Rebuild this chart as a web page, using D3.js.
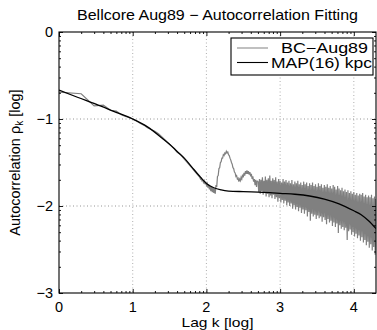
<!DOCTYPE html>
<html><head><meta charset="utf-8">
<script src="https://cdn.jsdelivr.net/npm/d3@7"></script>
<style>body{margin:0;background:#fff} text{font-family:"Liberation Sans",Arial,Helvetica,sans-serif;fill:#000}</style>
</head><body><svg id="c" width="377" height="330"></svg>
<script>
const titleText = "Bellcore Aug89 − Autocorrelation Fitting";
const xLabelText = "Lag k [log]";
const seriesNames = ["BC−Aug89", "MAP(16) kpc"];
const xTicks = [0, 1, 2, 3, 4];
const xTickLabels = ["0", "1", "2", "3", "4"];
const yTicks = [0, -1, -2, -3];
const yTickLabels = ["0", "−1", "−2", "−3"];
const xMax = 4.301;

// BC-Aug89 empirical autocorrelation, smooth head: [log10 lag, log10 rho]
const bcHeadLag = [0, 0.301, 0.477, 0.602, 0.699, 0.778, 0.845, 0.903, 0.954, 1.00,
  1.05, 1.10, 1.15, 1.20, 1.25, 1.30, 1.35, 1.40, 1.45, 1.50, 1.55, 1.60, 1.65, 1.70, 1.75, 1.80, 1.85];
const bcHeadRho = [-0.69, -0.71, -0.85, -0.84, -0.90, -0.91, -0.95, -0.97, -0.985, -1.00,
  -1.02, -1.05, -1.07, -1.10, -1.12, -1.14, -1.17, -1.21, -1.25, -1.29, -1.33, -1.38, -1.41, -1.46, -1.51, -1.56, -1.61];
// BC-Aug89 middle part, lags on a 0.01 log grid from 1.90
const bcMidStart = 1.90;
const bcMidRho = [-1.66, -1.67, -1.69, -1.68, -1.71, -1.70, -1.73, -1.71, -1.75, -1.72,
  -1.76, -1.74, -1.79, -1.75, -1.81, -1.77, -1.83, -1.78, -1.84, -1.79,
  -1.85, -1.80, -1.86, -1.76, -1.78, -1.66, -1.65, -1.57, -1.56, -1.50,
  -1.49, -1.45, -1.45, -1.41, -1.42, -1.39, -1.40, -1.37, -1.39, -1.38,
  -1.41, -1.42, -1.45, -1.47, -1.50, -1.52, -1.56, -1.57, -1.61, -1.62,
  -1.66, -1.65, -1.69, -1.68, -1.72, -1.69, -1.71, -1.67, -1.69, -1.64,
  -1.67, -1.62, -1.65, -1.60, -1.63, -1.59, -1.63, -1.60, -1.64, -1.61,
  -1.66, -1.63, -1.69, -1.66, -1.72, -1.69, -1.76, -1.70, -1.78, -1.71];
// BC-Aug89 noisy tail, lags on a 0.01 log grid from 2.70
const bcTailStart = 2.70;
const bcTailRho = [-1.72, -1.84, -1.69, -1.86, -1.70, -1.83, -1.67, -1.87, -1.71, -1.85,
  -1.66, -1.89, -1.70, -1.86, -1.68, -1.90, -1.65, -1.88, -1.71, -1.91,
  -1.68, -1.87, -1.70, -1.92, -1.67, -1.90, -1.72, -1.95, -1.69, -1.91,
  -1.71, -1.96, -1.73, -1.93, -1.69, -1.97, -1.72, -1.94, -1.70, -1.99,
  -1.73, -1.96, -1.71, -2.00, -1.74, -1.97, -1.70, -2.03, -1.75, -1.99,
  -1.72, -2.04, -1.74, -2.01, -1.71, -2.06, -1.75, -2.02, -1.73, -2.08,
  -1.76, -2.04, -1.72, -2.09, -1.75, -2.05, -1.73, -2.12, -1.77, -2.07,
  -1.74, -2.17, -1.76, -2.09, -1.73, -2.12, -1.77, -2.10, -1.75, -2.15,
  -1.78, -2.11, -1.74, -2.14, -1.77, -2.12, -1.75, -2.18, -1.79, -2.13,
  -1.76, -2.16, -1.78, -2.21, -1.75, -2.15, -1.79, -2.19, -1.77, -2.17,
  -1.80, -2.23, -1.76, -2.19, -1.78, -2.24, -1.81, -2.20, -1.77, -2.31,
  -1.80, -2.22, -1.82, -2.26, -1.79, -2.24, -1.83, -2.28, -1.81, -2.25,
  -1.84, -2.39, -1.82, -2.29, -1.85, -2.27, -1.83, -2.33, -1.86, -2.30,
  -1.84, -2.35, -1.87, -2.32, -1.85, -2.37, -1.88, -2.34, -1.86, -2.40,
  -1.87, -2.36, -1.85, -2.42, -1.89, -2.39, -1.87, -2.45, -1.90, -2.41,
  -1.88, -2.48, -1.90, -2.44, -1.87, -2.51, -1.91, -2.47, -1.89, -2.56,
  -1.92];

// MAP(16) kpc fitted autocorrelation
const mapLag = [0, 0.25, 0.5, 0.75, 1.0, 1.2, 1.4, 1.5, 1.6, 1.7, 1.8, 1.9, 2.0, 2.1, 2.2, 2.3, 2.5, 2.7, 2.9, 3.0, 3.2, 3.4, 3.6, 3.8, 4.0, 4.1, 4.2, 4.301];
const mapRho = [-0.667, -0.75, -0.83, -0.915, -1.0, -1.09, -1.22, -1.29, -1.37, -1.45, -1.55, -1.65, -1.74, -1.79, -1.815, -1.828, -1.835, -1.84, -1.848, -1.854, -1.865, -1.885, -1.92, -1.975, -2.055, -2.10, -2.17, -2.26];

const svg = d3.select("#c");
const L = 59, R = 376, T = 32, B = 293;
const FS = 14.5;
const x = d3.scaleLinear().domain([0, xMax]).range([L, R]);
const y = d3.scaleLinear().domain([-3, 0]).range([B, T]);

svg.append("rect").attr("width", 377).attr("height", 330).attr("fill", "#fff");

// grid
const g = svg.append("g");
g.selectAll(".gx").data(xTicks.filter(d => d > 0)).join("line")
  .attr("x1", d => x(d)).attr("x2", d => x(d)).attr("y1", T).attr("y2", B)
  .attr("stroke", "#9a9a9a").attr("stroke-width", 0.8).attr("stroke-dasharray", "1,2.5");
g.selectAll(".gy").data(yTicks.filter(d => d < 0 && d > -3)).join("line")
  .attr("y1", d => y(d)).attr("y2", d => y(d)).attr("x1", L).attr("x2", R)
  .attr("stroke", "#7a7a7a").attr("stroke-width", 0.8).attr("stroke-dasharray", "1,2.5");

// data
svg.append("clipPath").attr("id", "clip").append("rect")
  .attr("x", L).attr("y", T).attr("width", R - L).attr("height", B - T);
const headPoints = bcHeadLag.map((d, i) => [d, bcHeadRho[i]])
  .concat(bcMidRho.map((v, i) => [bcMidStart + i * 0.01, v]));
const tailPoints = [headPoints[headPoints.length - 1]]
  .concat(bcTailRho.map((v, i) => [bcTailStart + i * 0.01, v]));
const line = d3.line().x(d => x(d[0])).y(d => y(d[1]));
const dg = svg.append("g").attr("clip-path", "url(#clip)");
// solid core of the noisy tail: span covered by each consecutive pair of samples
const tailArea = d3.area().x(d => x(d[0]))
  .y0((d, i) => y(Math.min(d[1], tailPoints[Math.min(i + 1, tailPoints.length - 1)][1])))
  .y1((d, i) => y(Math.max(d[1], tailPoints[Math.min(i + 1, tailPoints.length - 1)][1])));
dg.append("path").attr("d", tailArea(tailPoints.slice(1))).attr("fill", "#808080");
dg.append("path").attr("d", line(headPoints)).attr("fill", "none")
  .attr("stroke", "#808080").attr("stroke-width", 1.2);
dg.append("path").attr("d", line(tailPoints)).attr("fill", "none")
  .attr("stroke", "#808080").attr("stroke-width", 1.2).attr("stroke-linejoin", "bevel");
const mapLine = d3.line().x(d => x(d[0])).y(d => y(d[1])).curve(d3.curveMonotoneX);
dg.append("path").attr("d", mapLine(mapLag.map((d, i) => [d, mapRho[i]]))).attr("fill", "none")
  .attr("stroke", "#000").attr("stroke-width", 1.3);

// ticks (inside, all four sides)
const minorX = [], minorY = [];
for (let d = 0; d <= 4; d++) for (let k = 2; k <= 9; k++) { const v = d + Math.log10(k); if (v < xMax) minorX.push(v); }
for (let d = -3; d <= -1; d++) for (let k = 2; k <= 9; k++) minorY.push(d + Math.log10(k));
function ax(gen, tr, vals, size) {
  const a = svg.append("g").attr("transform", tr)
    .call(gen.tickValues(vals).tickSizeInner(-size).tickSizeOuter(0).tickFormat(""));
  a.select(".domain").remove();
  a.selectAll("line").attr("stroke", "#000").attr("stroke-width", 0.9);
}
ax(d3.axisBottom(x), `translate(0,${B})`, xTicks, 4);
ax(d3.axisBottom(x), `translate(0,${B})`, minorX, 2);
ax(d3.axisTop(x), `translate(0,${T})`, xTicks, 4);
ax(d3.axisTop(x), `translate(0,${T})`, minorX, 2);
ax(d3.axisLeft(y), `translate(${L},0)`, yTicks, 4);
ax(d3.axisLeft(y), `translate(${L},0)`, minorY, 2);
ax(d3.axisRight(y), `translate(${R},0)`, yTicks, 4);
ax(d3.axisRight(y), `translate(${R},0)`, minorY, 2);

svg.append("rect").attr("x", L).attr("y", T).attr("width", R - L).attr("height", B - T)
  .attr("fill", "none").attr("stroke", "#000").attr("stroke-width", 1.1);

// tick labels
svg.selectAll(".xl").data(xTicks).join("text")
  .attr("x", d => x(d)).attr("y", 311.5).attr("text-anchor", "middle")
  .attr("font-size", FS).text((d, i) => xTickLabels[i]);
svg.selectAll(".yl").data(yTicks).join("text")
  .attr("x", 53).attr("y", d => y(d) + 5).attr("text-anchor", "end")
  .attr("font-size", FS).text((d, i) => yTickLabels[i]);

// titles
svg.append("text").attr("x", (L + R) / 2).attr("y", 20).attr("text-anchor", "middle")
  .attr("font-size", FS).attr("textLength", 281).attr("lengthAdjust", "spacingAndGlyphs").text(titleText);
svg.append("text").attr("x", (L + R) / 2).attr("y", 327).attr("text-anchor", "middle")
  .attr("font-size", 13.5).attr("textLength", 72).attr("lengthAdjust", "spacingAndGlyphs").text(xLabelText);
const yl = svg.append("text").attr("transform", `translate(20,${(T + B) / 2}) rotate(-90)`)
  .attr("text-anchor", "middle").attr("font-size", FS);
yl.append("tspan").text("Autocorrelation ρ");
yl.append("tspan").attr("font-size", 10).attr("dy", 3).text("k");
yl.append("tspan").attr("dy", -3).text(" [log]");

// legend
const lg = svg.append("g");
lg.append("rect").attr("x", 231).attr("y", 38).attr("width", 142).attr("height", 37)
  .attr("fill", "#fff").attr("stroke", "#000").attr("stroke-width", 1.1);
const legColors = ["#8c8c8c", "#000"];
const legTextX = [281, 271];
const legTextW = [87, 101];
seriesNames.forEach((n, i) => {
  const yy = 48 + i * 14.5;
  lg.append("line").attr("x1", 237).attr("x2", 268).attr("y1", yy).attr("y2", yy)
    .attr("stroke", legColors[i]).attr("stroke-width", 1.1);
  lg.append("text").attr("x", legTextX[i]).attr("y", yy + 5).attr("font-size", FS)
    .attr("textLength", legTextW[i]).attr("lengthAdjust", "spacingAndGlyphs").text(n);
});
</script></body></html>
